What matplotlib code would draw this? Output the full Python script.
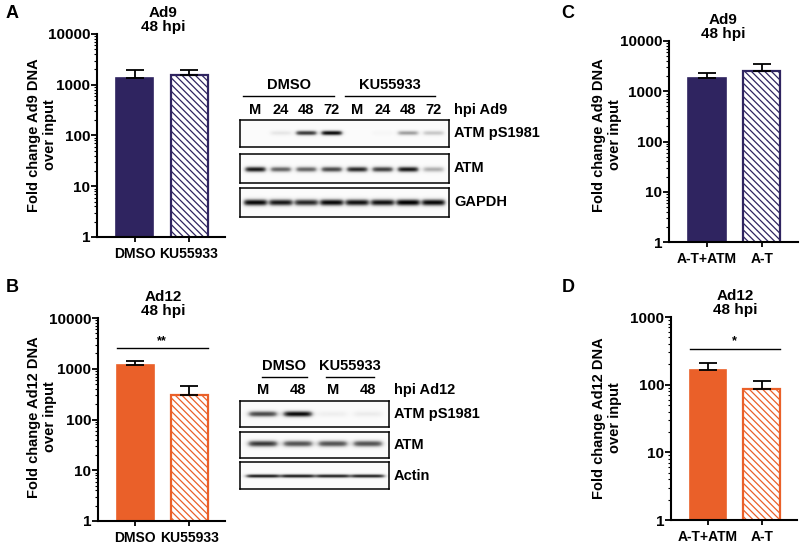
import numpy as np
import matplotlib
matplotlib.use("Agg")
import matplotlib.pyplot as plt
from matplotlib import transforms

plt.rcParams['font.family'] = ['Liberation Sans', 'DejaVu Sans']
plt.rcParams['font.weight'] = 'bold'
plt.rcParams['hatch.linewidth'] = 0.9

# ---------------- data ----------------
a_cats = ['DMSO', 'KU55933']
a_vals = [1370, 1570]
a_err = [600, 400]

b_cats = ['DMSO', 'KU55933']
b_vals = [1200, 310]
b_err = [230, 140]
b_sig = 2600
b_star = '**'

c_cats = ['A-T+ATM', 'A-T']
c_vals = [1850, 2530]
c_err = [450, 1000]

d_cats = ['A-T+ATM', 'A-T']
d_vals = [166, 87]
d_err = [45, 28]
d_sig = 340
d_star = '*'

# western blot A (Ad9)
blotA_groups = ['DMSO', 'KU55933']
blotA_lanes = ['M', '24', '48', '72', 'M', '24', '48', '72']
blotA_rows = ['ATM pS1981', 'ATM', 'GAPDH']
blotA_pS1981 = [0.0, 0.15, 0.8, 0.95, 0.0, 0.04, 0.45, 0.3]
blotA_ATM = [0.9, 0.65, 0.65, 0.75, 0.85, 0.78, 0.9, 0.4]
blotA_GAPDH = [0.95, 0.9, 0.85, 0.95, 0.92, 0.92, 0.98, 0.95]

# western blot B (Ad12)
blotB_groups = ['DMSO', 'KU55933']
blotB_lanes = ['M', '48', 'M', '48']
blotB_rows = ['ATM pS1981', 'ATM', 'Actin']
blotB_pS1981 = [0.75, 0.95, 0.1, 0.12]
blotB_ATM = [0.8, 0.72, 0.72, 0.72]
blotB_Actin = [0.9, 0.9, 0.88, 0.88]

PURPLE = '#2f2460'
ORANGE = '#ea6029'

W, H = 800, 545
fig = plt.figure(figsize=(W / 100, H / 100), dpi=100)


def rect(l, t, r, b):
    return [l / W, 1 - b / H, (r - l) / W, (b - t) / H]


def fx(x):
    return x / W


def fy(y):
    return 1 - y / H


def bar_panel(box, cats, vals, errs, color, ylim, ylabel, title, title_x,
              ylabel_x, ylabel_y, sig=None, star=None):
    ax = fig.add_axes(rect(*box))
    ax.set_yscale('log')
    x = np.arange(len(cats))
    w = 0.68
    ax.bar(x[0], vals[0], width=w, color=color, edgecolor=color, lw=1.2, zorder=2)
    ax.bar(x[1], vals[1], width=w, facecolor='white', edgecolor=color,
           hatch='\\' * 5, lw=1.6, zorder=2)
    ax.errorbar(x, vals, yerr=[np.zeros(len(vals)), errs], fmt='none',
                ecolor='black', elinewidth=1.3, capsize=6.5, capthick=1.3, zorder=3)
    ax.set_xlim(-0.69, 1.66)
    ax.set_ylim(*ylim)
    ax.set_xticks(x)
    ax.set_xticklabels(cats, fontsize=10, fontweight='bold')
    decades = 10.0 ** np.arange(np.log10(ylim[0]), np.log10(ylim[1]) + 1)
    ax.set_yticks(decades)
    ax.set_yticklabels([f'{int(d)}' for d in decades], fontsize=11, fontweight='bold')
    ax.yaxis.set_minor_locator(matplotlib.ticker.LogLocator(base=10, subs=np.arange(2, 10)))
    ax.yaxis.set_minor_formatter(matplotlib.ticker.NullFormatter())
    for s in ['top', 'right']:
        ax.spines[s].set_visible(False)
    for s in ['left', 'bottom']:
        ax.spines[s].set_linewidth(1.5)
    ax.tick_params(axis='y', which='major', direction='out', length=4, width=1.3, pad=1)
    ax.tick_params(axis='y', which='minor', direction='out', length=2, width=0.8)
    ax.tick_params(axis='x', which='major', direction='out', length=3.5, width=1.3, pad=4)
    if sig is not None:
        ax.plot([x[0] - w / 2, x[1] + w / 2], [sig, sig], color='black', lw=1.0, zorder=3)
        ax.text((x[0] + x[1]) / 2, sig * 1.04, star, ha='center', va='bottom',
                fontsize=9, fontweight='bold')
    t = box[1]
    fig.text(fx(title_x), fy(t - 21), title[0], ha='center', va='center',
             fontsize=11, fontweight='bold')
    fig.text(fx(title_x), fy(t - 7), title[1], ha='center', va='center',
             fontsize=11, fontweight='bold')
    fig.text(fx(ylabel_x), fy(ylabel_y), ylabel, rotation=90,
             ha='center', va='center', multialignment='center',
             fontsize=10.5, fontweight='bold', linespacing=1.15)
    return ax


bar_panel((97, 34, 225, 237), a_cats, a_vals, a_err, PURPLE, (1, 10000),
          'Fold change Ad9 DNA\nover input', ('Ad9', '48 hpi'), 163, 42, 135)
bar_panel((98, 318, 225, 521), b_cats, b_vals, b_err, ORANGE, (1, 10000),
          'Fold change Ad12 DNA\nover input', ('Ad12', '48 hpi'), 163, 42, 417,
          sig=b_sig, star=b_star)
bar_panel((669, 41, 798, 242), c_cats, c_vals, c_err, PURPLE, (1, 10000),
          'Fold change Ad9 DNA\nover input', ('Ad9', '48 hpi'), 723, 607, 135)
bar_panel((671, 317, 797, 520), d_cats, d_vals, d_err, ORANGE, (1, 1000),
          'Fold change Ad12 DNA\nover input', ('Ad12', '48 hpi'), 735, 607, 418,
          sig=d_sig, star=d_star)

for letter, (lx, ly) in zip('ABCD', [(12, 13), (12, 288), (568, 13), (568, 288)]):
    fig.text(fx(lx), fy(ly), letter, ha='center', va='center', fontsize=13,
             fontweight='bold')


def draw_blot(box, intens, xlim, yc=0.5, sy=0.1, lane_w=0.78, soft=0.05):
    ax = fig.add_axes(rect(*box))
    xs = np.linspace(xlim[0], xlim[1], 500)
    ys = np.linspace(0, 1, 100)
    X, Y = np.meshgrid(xs, ys)
    img = np.full_like(X, 0.03)
    for i, v in enumerate(intens, start=1):
        px = 1 / (1 + np.exp(-(X - (i - lane_w / 2)) / soft)) * \
             1 / (1 + np.exp((X - (i + lane_w / 2)) / soft))
        py = np.exp(-((Y - yc) / sy) ** 2)
        img += v * px * py
    ax.imshow(np.clip(img, 0, 1), extent=(xlim[0], xlim[1], 0, 1), origin='lower',
              cmap='Greys', vmin=0, vmax=1, aspect='auto', interpolation='bilinear')
    ax.set_xlim(*xlim)
    ax.set_ylim(0, 1)
    ax.set_xticks([])
    ax.set_yticks([])
    for s in ax.spines.values():
        s.set_linewidth(1.1)
    return ax


def blot_panel(boxes, rows_data, row_names, lanes, groups, xlim, hpi_label,
               lane_y, group_y, line_y, group_spans, band_params):
    axes = []
    for bx, data, name, bp in zip(boxes, rows_data, row_names, band_params):
        ax = draw_blot(bx, data, xlim, **bp)
        fig.text(fx(bx[2] + 5), fy((bx[1] + bx[3]) / 2), name, ha='left',
                 va='center', fontsize=10.5, fontweight='bold')
        axes.append(ax)
    top = axes[0]
    tr = transforms.blended_transform_factory(top.transData, fig.transFigure)
    for i, lab in enumerate(lanes, start=1):
        top.text(i, fy(lane_y), lab, transform=tr, ha='center', va='center',
                 fontsize=10.5, fontweight='bold')
    fig.text(fx(boxes[0][2] + 5), fy(lane_y), hpi_label, ha='left', va='center',
             fontsize=10.5, fontweight='bold')
    for g, (s, e) in zip(groups, group_spans):
        top.plot([s, e], [fy(line_y), fy(line_y)], transform=tr, color='black',
                 lw=1.0, clip_on=False)
        top.text((s + e) / 2, fy(group_y), g, transform=tr, ha='center',
                 va='center', fontsize=10.5, fontweight='bold')


blot_panel([(240, 120, 449, 147), (240, 154, 449, 183), (240, 188, 449, 217)],
           [blotA_pS1981, blotA_ATM, blotA_GAPDH], blotA_rows, blotA_lanes,
           blotA_groups, (0.4, 8.6), 'hpi Ad9', 110, 85, 96,
           [(0.52, 4.1), (4.5, 8.05)],
           [dict(yc=0.5, sy=0.09, lane_w=0.8), dict(yc=0.47, sy=0.1, lane_w=0.8),
            dict(yc=0.5, sy=0.12, lane_w=0.9)])

blot_panel([(240, 401, 389, 427), (240, 432, 389, 458), (240, 462, 389, 489)],
           [blotB_pS1981, blotB_ATM, blotB_Actin], blotB_rows, blotB_lanes,
           blotB_groups, (0.35, 4.6), 'hpi Ad12', 390, 366, 377,
           [(0.97, 2.26), (2.8, 4.17)],
           [dict(yc=0.5, sy=0.12, lane_w=0.8), dict(yc=0.55, sy=0.13, lane_w=0.82),
            dict(yc=0.48, sy=0.07, lane_w=0.95)])

fig.savefig('out.png', dpi=100)
